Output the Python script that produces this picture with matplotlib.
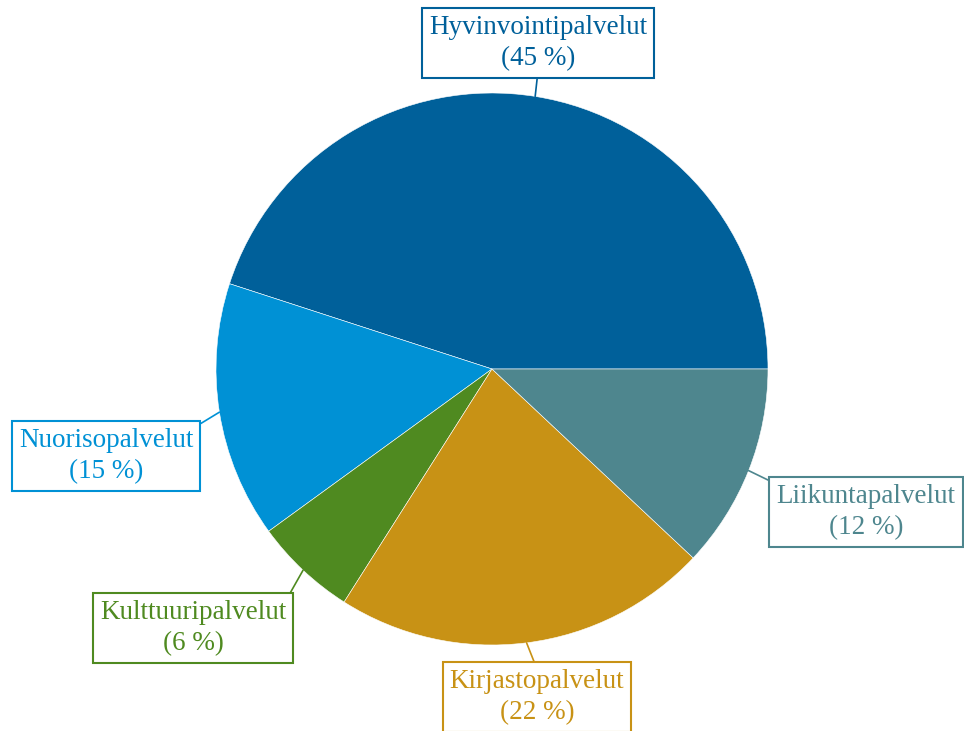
import numpy as np
import matplotlib.pyplot as plt

# Data
labels = ['Hyvinvointipalvelut', 'Nuorisopalvelut', 'Kulttuuripalvelut',
          'Kirjastopalvelut', 'Liikuntapalvelut']
shares = [45, 15, 6, 22, 12]
colors = ['#00609a', '#0091d5', '#4f8a20', '#c89215', '#4e868e']

# label box centres (pixels, top-left origin) and where the connector meets the box
label_pos = [(538, 43), (106, 456), (193, 628), (537, 697), (866, 512)]
rel_pos = [(0.5, 0), (1, 1), (1, 1), (0.5, 1), (0, 1)]

W, H = 964, 731
fig = plt.figure(figsize=(W / 100, H / 100), dpi=100)
ax = fig.add_axes([0, 0, 1, 1])

cx, cy, r = 492, H - 369, 276
wedges, _ = ax.pie(shares, colors=colors, startangle=0, counterclock=True,
                   center=(cx, cy), radius=r, frame=True,
                   wedgeprops=dict(edgecolor='white', linewidth=0.4))
ax.set_xlim(0, W)
ax.set_ylim(0, H)
ax.set_aspect('equal')
ax.axis('off')

for w, lab, val, col, (px, py), rp in zip(wedges, labels, shares, colors,
                                          label_pos, rel_pos):
    mid = np.deg2rad((w.theta1 + w.theta2) / 2)
    x0 = cx + r * np.cos(mid)
    y0 = cy + r * np.sin(mid)
    ax.annotate(f'{lab}\n({val} %)', xy=(x0, y0), xytext=(px, H - py),
                ha='center', va='center', fontsize=19.5, color=col,
                family='Liberation Serif', linespacing=1.3,
                bbox=dict(boxstyle='square,pad=0.26', fc='white', ec=col, lw=1.5),
                arrowprops=dict(arrowstyle='-', color=col, lw=1.2, relpos=rp,
                                shrinkA=0, shrinkB=0))

fig.savefig('out.png', dpi=100)
